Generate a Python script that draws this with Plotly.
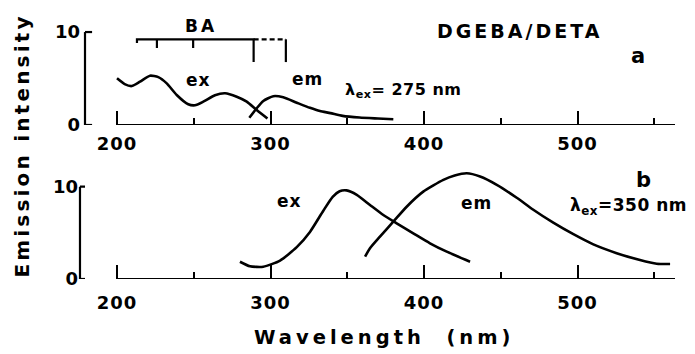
import plotly.graph_objects as go

# ---- spectra (wavelength in nm, intensity in arbitrary units) ----
# panel a: excitation and emission, lambda_ex = 275 nm
a_ex_nm = [200, 205, 209.6, 215, 221.5, 226.9, 232.4, 238.9, 246.4, 250.8,
           256.2, 263.8, 270.4, 278, 284.5, 291, 298]
a_ex_val = [5.02, 4.4, 4.19, 4.66, 5.3, 5.15, 4.48, 3.23, 2.23, 2.12,
            2.51, 3.2, 3.41, 3.04, 2.51, 1.61, 0.7]
a_em_nm = [286.2, 291, 295.3, 301.8, 308.3, 317.1, 325.7, 332.2, 339,
           347, 358, 370, 380]
a_em_val = [0.78, 1.8, 2.58, 3.1, 2.98, 2.4, 1.85, 1.5, 1.28,
            0.98, 0.8, 0.7, 0.62]

# panel b: excitation and emission, lambda_ex = 350 nm
b_ex_nm = [280.1, 286.6, 295.3, 306.2, 317.1, 325.7, 334.4, 340.5, 345,
           349.5, 356.2, 364.8, 373.5, 382.2, 393, 403.9, 414.8, 430]
b_ex_val = [1.87, 1.38, 1.33, 2.0, 3.45, 5.1, 7.4, 8.9, 9.5,
            9.6, 9.12, 8.02, 6.93, 6.03, 4.95, 3.87, 2.96, 1.87]
b_em_nm = [361.6, 364.8, 371.3, 380, 388.7, 399.5, 412.6, 420, 427.8,
           436.5, 447.4, 460.4, 471.2, 484.2, 497.3, 510.3, 525.5, 540.7,
           551.6, 560.3]
b_em_val = [2.42, 3.33, 4.58, 6.21, 7.83, 9.46, 10.73, 11.2, 11.45,
            11.1, 10.2, 8.8, 7.5, 6.1, 4.85, 3.75, 2.8, 2.06,
            1.66, 1.63]

# BA reference bracket (positions in nm, heights in intensity units)
ba_left, ba_solid_end, ba_right = 213, 289, 310
ba_level = 9.22
ba_short_ticks = [226, 249.6]
ba_short_bottom = 8.28
ba_long_bottom = 6.77

# axis ticks
x_major = [200, 300, 400, 500]
x_minor = [250, 350, 450, 550]
y_ticks = [0, 10]
x_range = [179.15, 563.5]

FONT = "DejaVu Sans"
INK = "black"


def spaced(text, gap=3):
    return f'<span style="letter-spacing:{gap}px">{text}</span>'


def font(size):
    return dict(family=FONT, size=size, color=INK, weight="bold")


fig = go.Figure()

curve = dict(mode="lines", line=dict(color=INK, width=2.6, shape="spline", smoothing=0.6),
             showlegend=False, hoverinfo="skip")
fig.add_trace(go.Scatter(x=a_ex_nm, y=a_ex_val, xaxis="x", yaxis="y", **curve))
fig.add_trace(go.Scatter(x=a_em_nm, y=a_em_val, xaxis="x", yaxis="y", **curve))
fig.add_trace(go.Scatter(x=b_ex_nm, y=b_ex_val, xaxis="x2", yaxis="y2", **curve))
fig.add_trace(go.Scatter(x=b_em_nm, y=b_em_val, xaxis="x2", yaxis="y2", **curve))

# BA bracket: solid span with ticks, dashed extension
bx, by = [ba_left, ba_left, ba_solid_end, ba_solid_end, None], [
    ba_level - 0.4, ba_level, ba_level, ba_long_bottom, None]
for t in ba_short_ticks:
    bx += [t, t, None]
    by += [ba_level, ba_short_bottom, None]
bx += [ba_right, ba_right]
by += [ba_level, ba_long_bottom]
fig.add_trace(go.Scatter(x=bx, y=by, xaxis="x", yaxis="y", mode="lines",
                         line=dict(color=INK, width=2.2), showlegend=False, hoverinfo="skip"))
fig.add_trace(go.Scatter(x=[ba_solid_end, ba_right], y=[ba_level, ba_level], xaxis="x", yaxis="y",
                         mode="lines", line=dict(color=INK, width=2.2, dash="5px,3px"),
                         showlegend=False, hoverinfo="skip"))

tickfont = font(18)
xcommon = dict(range=x_range, showgrid=False, zeroline=False, showline=False,
               ticks="inside", ticklen=14, tickwidth=2, tickcolor=INK,
               tickmode="array", tickvals=x_major,
               ticktext=[spaced(str(v), 1) for v in x_major], tickfont=tickfont,
               minor=dict(ticks="inside", ticklen=7, tickwidth=2, tickcolor=INK,
                          tickmode="array", tickvals=x_minor),
               domain=[0, 1])
ycommon = dict(showgrid=False, zeroline=False, showline=False, ticks="",
               tickmode="array", tickvals=y_ticks,
               ticktext=[str(v) for v in y_ticks], tickfont=tickfont)

fig.update_layout(
    width=695, height=354,
    margin=dict(l=85, r=20, t=22, b=75),
    paper_bgcolor="white", plot_bgcolor="white",
    xaxis=dict(anchor="y", ticklabelstandoff=6, **xcommon),
    xaxis2=dict(anchor="y2", ticklabelstandoff=11, **xcommon),
    yaxis=dict(anchor="x", domain=[0.5992, 1], range=[0, 11.08], ticklabelstandoff=4, **ycommon),
    yaxis2=dict(anchor="x2", domain=[0, 0.449], range=[0, 12.5], ticklabelstandoff=6, **ycommon),
    font=dict(family=FONT, color=INK),
)

# axis frames drawn as open brackets
shapes = []
for xr, yr, xpos, tlen in [("x", "y", 0.0, 0.012), ("x2", "y2", -0.0085, 0.0085)]:
    line = dict(color=INK, width=2.2)
    shapes.append(dict(type="line", xref=f"{xr} domain", yref=yr, x0=xpos, x1=xpos,
                       y0=y_ticks[0], y1=y_ticks[-1], line=line))
    for yv in y_ticks:
        shapes.append(dict(type="line", xref=f"{xr} domain", yref=yr, x0=xpos, x1=xpos + tlen,
                           y0=yv, y1=yv, line=line))
    shapes.append(dict(type="line", xref=xr, yref=yr, x0=x_major[0], x1=x_range[1],
                       y0=0, y1=0, line=line))
fig.update_layout(shapes=shapes)

ann = [
    dict(xref="x", yref="y", x=254.4, y=10.65, text=spaced("BA", 3), font=font(17)),
    dict(xref="x", yref="y", x=252.8, y=4.84, text=spaced("ex", 1), font=font(17)),
    dict(xref="x", yref="y", x=323.8, y=4.95, text=spaced("em", 1), font=font(17)),
    dict(xref="x", yref="y", x=347.2, y=3.76, xanchor="left",
         text=spaced("λ<sub>ex</sub>= 275 nm", 0.5), font=font(16)),
    dict(xref="x", yref="y", x=462.5, y=10.16, text=spaced("DGEBA/DETA", 3), font=font(19)),
    dict(xref="x", yref="y", x=539.4, y=7.42, text="a", font=font(21)),
    dict(xref="x2", yref="y2", x=312.1, y=8.45, text=spaced("ex", 1), font=font(17)),
    dict(xref="x2", yref="y2", x=434.5, y=8.23, text=spaced("em", 1), font=font(17)),
    dict(xref="x2", yref="y2", x=493.8, y=7.8, xanchor="left",
         text=spaced("λ<sub>ex</sub>=350 nm", 0.5), font=font(17)),
    dict(xref="x2", yref="y2", x=542.7, y=10.73, text="b", font=font(21)),
    dict(xref="paper", yref="paper", x=-0.1068, y=0.519, textangle=-90,
         text=spaced("Emission intensity", 3.2), font=font(20)),
    dict(xref="paper", yref="paper", x=0.507, y=-0.2276,
         text=spaced("Wavelength\u00a0\u00a0(nm)", 4), font=font(19.5)),
]
for a in ann:
    a.setdefault("showarrow", False)
    a.setdefault("xanchor", "center")
    a.setdefault("yanchor", "middle")
fig.update_layout(annotations=ann)

fig.write_html("out.html")
